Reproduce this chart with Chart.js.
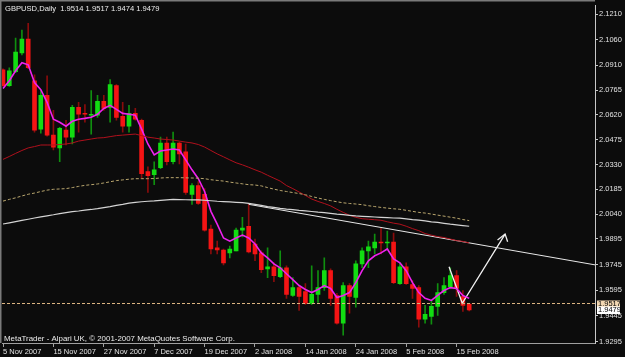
<!DOCTYPE html>
<html><head><meta charset="utf-8">
<script src="https://cdn.jsdelivr.net/npm/chart.js@4.4.1/dist/chart.umd.min.js"></script>
<style>html,body{margin:0;padding:0;background:#0c0c0c;overflow:hidden}#c{display:block}</style>
</head><body><canvas id="c" width="625" height="357"></canvas>
<script>
const dates = ["5 Nov 2007","6 Nov 2007","7 Nov 2007","8 Nov 2007","9 Nov 2007","12 Nov 2007","13 Nov 2007","14 Nov 2007","15 Nov 2007","16 Nov 2007",
"19 Nov 2007","20 Nov 2007","21 Nov 2007","22 Nov 2007","23 Nov 2007","26 Nov 2007","27 Nov 2007","28 Nov 2007","29 Nov 2007","30 Nov 2007",
"3 Dec 2007","4 Dec 2007","5 Dec 2007","6 Dec 2007","7 Dec 2007","10 Dec 2007","11 Dec 2007","12 Dec 2007","13 Dec 2007","14 Dec 2007",
"17 Dec 2007","18 Dec 2007","19 Dec 2007","20 Dec 2007","21 Dec 2007","24 Dec 2007","26 Dec 2007","27 Dec 2007","28 Dec 2007","31 Dec 2007",
"2 Jan 2008","3 Jan 2008","4 Jan 2008","7 Jan 2008","8 Jan 2008","9 Jan 2008","10 Jan 2008","11 Jan 2008","14 Jan 2008","15 Jan 2008",
"16 Jan 2008","17 Jan 2008","18 Jan 2008","21 Jan 2008","22 Jan 2008","23 Jan 2008","24 Jan 2008","25 Jan 2008","28 Jan 2008","29 Jan 2008",
"30 Jan 2008","31 Jan 2008","1 Feb 2008","4 Feb 2008","5 Feb 2008","6 Feb 2008","7 Feb 2008","8 Feb 2008","11 Feb 2008","12 Feb 2008",
"13 Feb 2008","14 Feb 2008","15 Feb 2008","18 Feb 2008","19 Feb 2008"];

const opens = [2.0884,2.0791,2.0873,2.0983,2.1064,2.0820,2.0537,2.0734,2.0502,2.0427,
2.0531,2.0490,2.0664,2.0629,2.0618,2.0618,2.0699,2.0664,2.0791,2.0612,
2.0554,2.0629,2.0589,2.0288,2.0270,2.0311,2.0456,2.0346,2.0456,2.0404,
2.0155,2.0207,2.0155,1.9952,1.9842,1.9830,1.9813,1.9825,1.9946,1.9969,
1.9865,1.9813,1.9720,1.9732,1.9674,1.9726,1.9564,1.9610,1.9587,1.9518,
1.9570,1.9610,1.9709,1.9564,1.9402,1.9622,1.9552,1.9749,1.9825,1.9842,
1.9877,1.9871,1.9877,1.9633,1.9732,1.9628,1.9610,1.9425,1.9442,1.9500,
1.9581,1.9616,1.9680,1.9558,1.9514];
const highs = [2.0890,2.0896,2.1069,2.1116,2.1156,2.0855,2.0762,2.0849,2.0647,2.0548,
2.0589,2.0676,2.0693,2.0681,2.0762,2.0734,2.0734,2.0826,2.0797,2.0693,
2.0676,2.0658,2.0595,2.0317,2.0346,2.0490,2.0490,2.0519,2.0461,2.0450,
2.0218,2.0230,2.0189,1.9975,1.9882,1.9836,1.9853,1.9958,2.0021,2.0097,
1.9894,1.9825,1.9842,1.9755,1.9825,1.9738,1.9668,1.9622,1.9633,1.9738,
1.9709,1.9784,1.9720,1.9576,1.9639,1.9633,1.9767,1.9842,1.9882,1.9923,
1.9958,1.9940,1.9929,1.9755,1.9755,1.9651,1.9622,1.9506,1.9535,1.9633,
1.9668,1.9726,1.9709,1.9593,1.9517];
const lows = [2.0786,2.0786,2.0867,2.0971,2.0890,2.0519,2.0514,2.0496,2.0415,2.0346,
2.0444,2.0450,2.0519,2.0577,2.0508,2.0606,2.0647,2.0577,2.0589,2.0519,
2.0519,2.0589,2.0247,2.0166,2.0212,2.0305,2.0328,2.0334,2.0334,2.0155,
2.0097,2.0097,1.9940,1.9807,1.9807,1.9743,1.9784,1.9825,1.9906,1.9813,
1.9767,1.9697,1.9668,1.9645,1.9668,1.9547,1.9558,1.9477,1.9512,1.9512,
1.9523,1.9593,1.9506,1.9396,1.9332,1.9460,1.9495,1.9726,1.9726,1.9807,
1.9807,1.9836,1.9633,1.9628,1.9628,1.9547,1.9379,1.9402,1.9396,1.9448,
1.9570,1.9605,1.9558,1.9471,1.9474];
const closes = [2.0791,2.0878,2.0988,2.1064,2.0896,2.0531,2.0734,2.0502,2.0432,2.0542,
2.0490,2.0664,2.0624,2.0624,2.0624,2.0699,2.0658,2.0797,2.0606,2.0554,
2.0629,2.0595,2.0276,2.0265,2.0299,2.0456,2.0346,2.0456,2.0392,2.0166,
2.0207,2.0102,1.9946,1.9836,1.9830,1.9755,1.9836,1.9946,1.9958,1.9819,
1.9807,1.9715,1.9732,1.9680,1.9726,1.9570,1.9610,1.9558,1.9518,1.9570,
1.9610,1.9709,1.9547,1.9402,1.9622,1.9558,1.9749,1.9825,1.9848,1.9877,
1.9871,1.9877,1.9639,1.9732,1.9633,1.9605,1.9425,1.9454,1.9500,1.9581,
1.9622,1.9680,1.9605,1.9506,1.9479];

const maFast = [2.0774,2.0820,2.0878,2.0925,2.0913,2.0809,2.0768,2.0693,2.0595,2.0577,
2.0554,2.0583,2.0595,2.0600,2.0606,2.0624,2.0658,2.0676,2.0652,2.0629,
2.0624,2.0618,2.0537,2.0450,2.0386,2.0409,2.0415,2.0421,2.0415,2.0357,
2.0299,2.0247,2.0172,2.0056,1.9981,1.9900,1.9882,1.9900,1.9917,1.9900,
1.9865,1.9813,1.9784,1.9749,1.9726,1.9691,1.9657,1.9622,1.9599,1.9581,
1.9599,1.9622,1.9605,1.9552,1.9564,1.9581,1.9639,1.9709,1.9767,1.9796,
1.9813,1.9836,1.9778,1.9755,1.9709,1.9639,1.9581,1.9547,1.9535,1.9564,
1.9593,1.9610,1.9605,1.9564,1.9547];
const maRed = [2.0360,2.0377,2.0395,2.0412,2.0427,2.0435,2.0444,2.0444,2.0444,2.0447,
2.0450,2.0456,2.0467,2.0473,2.0479,2.0485,2.0487,2.0493,2.0499,2.0502,
2.0505,2.0508,2.0499,2.0490,2.0485,2.0479,2.0476,2.0473,2.0467,2.0461,
2.0456,2.0447,2.0432,2.0412,2.0392,2.0375,2.0357,2.0340,2.0328,2.0314,
2.0299,2.0285,2.0267,2.0250,2.0233,2.0207,2.0189,2.0169,2.0149,2.0128,
2.0114,2.0102,2.0088,2.0068,2.0050,2.0033,2.0021,2.0013,2.0010,2.0007,
2.0004,1.9995,1.9987,1.9981,1.9969,1.9955,1.9943,1.9926,1.9917,1.9908,
1.9903,1.9894,1.9885,1.9880,1.9871];
const maDotted = [2.0116,2.0126,2.0135,2.0146,2.0156,2.0163,2.0172,2.0180,2.0185,2.0187,
2.0189,2.0195,2.0202,2.0208,2.0212,2.0216,2.0222,2.0229,2.0236,2.0240,
2.0244,2.0247,2.0247,2.0247,2.0248,2.0251,2.0253,2.0253,2.0253,2.0252,
2.0251,2.0250,2.0247,2.0241,2.0237,2.0233,2.0227,2.0222,2.0217,2.0212,
2.0210,2.0205,2.0195,2.0186,2.0178,2.0172,2.0166,2.0160,2.0153,2.0143,
2.0134,2.0126,2.0119,2.0112,2.0106,2.0102,2.0099,2.0095,2.0089,2.0084,
2.0079,2.0075,2.0071,2.0068,2.0062,2.0056,2.0050,2.0046,2.0040,2.0034,
2.0028,2.0022,2.0016,2.0008,2.0002];
const maWhite = [1.9982,1.9989,1.9996,2.0003,2.0010,2.0017,2.0024,2.0030,2.0036,2.0043,
2.0049,2.0054,2.0058,2.0063,2.0067,2.0072,2.0078,2.0084,2.0091,2.0097,
2.0104,2.0109,2.0112,2.0115,2.0117,2.0120,2.0123,2.0126,2.0125,2.0124,
2.0123,2.0123,2.0121,2.0118,2.0115,2.0113,2.0111,2.0109,2.0107,2.0103,
2.0097,2.0091,2.0084,2.0079,2.0073,2.0069,2.0066,2.0062,2.0059,2.0055,
2.0051,2.0048,2.0044,2.0040,2.0037,2.0033,2.0029,2.0027,2.0025,2.0023,
2.0021,2.0019,2.0017,2.0016,2.0012,2.0008,2.0005,2.0000,1.9995,1.9991,
1.9986,1.9981,1.9977,1.9973,1.9969];

const yTicks = [2.1210,2.1060,2.0910,2.0765,2.0620,2.0475,2.0330,2.0185,2.0040,1.9895,1.9745,1.9595,1.9445,1.9295];
const xTickIdx = [0,8,16,24,32,40,48,56,64,72];
const yRange = [1.9286, 2.1260];
const xRange = [-0.16, 93.97];
const levelLine = [1.9517];
const priceTags = [1.9517, 1.9479];
const trendX = [39, 93.97];
const trendY = [2.0097, 1.9743];
const arrowX = [70.8, 72.9, 79.7];
const arrowY = [1.9732, 1.9518, 1.9923];
const headX = [78.5, 79.7, 80.1];
const headY = [1.9888, 1.9923, 1.9878];
const headerText = "GBPUSD,Daily  1.9514 1.9517 1.9474 1.9479";
const footerText = "MetaTrader - Alpari UK, \u00a9 2001-2007 MetaQuotes Software Corp.";

const FONT = "'Liberation Sans', Arial, sans-serif";
Chart.defaults.font.family = FONT;
Chart.defaults.font.size = 7.5;

const idx = opens.map((_, i) => i);
const isUp = i => closes[i] >= opens[i];
const pts = arr => arr.map((v, i) => ({x: i, y: v}));
const lineDs = (data, color, extra) => Object.assign({
  type: 'line', data, borderColor: color, borderWidth: 1, pointRadius: 0,
  tension: 0, fill: false, order: 0
}, extra || {});

const deco = {
  id: 'deco',
  beforeDraw(chart) {
    const c = chart.ctx;
    c.save(); c.fillStyle = '#0c0c0c'; c.fillRect(0, 0, chart.width, chart.height); c.restore();
  },
  afterDraw(chart) {
    const c = chart.ctx, a = chart.chartArea, ys = chart.scales.y;
    c.save();
    c.fillStyle = '#7a7a7a';
    c.fillRect(0, 0, a.right, 1.5);
    c.fillRect(0, 0, 1.5, a.bottom);
    c.textBaseline = 'alphabetic';
    c.fillStyle = '#ececec';
    c.font = '7.6px ' + FONT;
    c.fillText(headerText, 5, 11);
    c.font = '7.9px ' + FONT;
    c.fillText(footerText, 4, 340.5);
    c.font = '7.5px ' + FONT;
    const cols = ['#f3d8b2', '#ffffff'];
    priceTags.forEach((v, k) => {
      const y = ys.getPixelForValue(v);
      c.fillStyle = cols[k];
      c.fillRect(a.right + 2, Math.round(y) - 3.5, 23, 7.5);
      c.fillStyle = '#000000';
      c.textBaseline = 'middle';
      c.fillText(v.toFixed(4), a.right + 3, Math.round(y) + 0.3);
    });
    c.restore();
  }
};

new Chart(document.getElementById('c'), {
  type: 'bar',
  data: {
    datasets: [
      lineDs(pts(maWhite), '#d4d4d4', {borderWidth: 1.2}),
      lineDs(pts(maDotted), '#b9a66e', {borderDash: [3, 2]}),
      lineDs(pts(maRed), '#b0101c'),
      lineDs(trendX.map((x, k) => ({x, y: trendY[k]})), '#e8e8e8'),
      lineDs(xRange.map(x => ({x, y: levelLine[0]})), '#dcb482', {borderDash: [3, 2]}),
      lineDs(pts(maFast), '#ee22ee', {borderWidth: 1.6}),
      lineDs(arrowX.map((x, k) => ({x, y: arrowY[k]})), '#f0f0f0', {borderWidth: 1.3}),
      lineDs(headX.map((x, k) => ({x, y: headY[k]})), '#f0f0f0', {borderWidth: 1.3}),
      {
        type: 'bar', grouped: false, order: 2,
        data: idx.map(i => ({x: i, y: [lows[i], highs[i]]})),
        backgroundColor: idx.map(i => isUp(i) ? '#0f8f0f' : '#8a0c0c'),
        barThickness: 1, borderWidth: 0
      },
      {
        type: 'bar', grouped: false, order: 1,
        data: idx.map(i => ({x: i, y: [opens[i], closes[i]]})),
        backgroundColor: idx.map(i => isUp(i) ? '#12dc12' : '#f41414'),
        barThickness: 4, borderWidth: 0, minBarLength: 1
      }
    ]
  },
  options: {
    responsive: false, animation: false,
    layout: {padding: {left: 2, top: 2, right: 0, bottom: 0}},
    plugins: {legend: {display: false}, tooltip: {enabled: false}, title: {display: false}},
    scales: {
      x: {
        type: 'linear', min: xRange[0], max: xRange[1], offset: false,
        afterBuildTicks: s => { s.ticks = xTickIdx.map(v => ({value: v})); },
        afterFit: s => { s.height = 14; },
        grid: {display: true, drawOnChartArea: false, drawTicks: true, tickLength: 4, color: '#a0a0a0', offset: false},
        border: {display: true, color: '#a0a0a0', width: 1},
        ticks: {align: 'start', maxRotation: 0, autoSkip: false, padding: 0, color: '#e2e2e2',
          callback: v => dates[v] !== undefined ? dates[v] : ''}
      },
      y: {
        position: 'right', min: yRange[0], max: yRange[1],
        afterBuildTicks: s => { s.ticks = yTicks.map(v => ({value: v})); },
        afterFit: s => { s.width = 30; },
        grid: {display: true, drawOnChartArea: false, drawTicks: true, tickLength: 3, color: '#c8c8c8'},
        border: {display: true, color: '#c8c8c8', width: 1},
        ticks: {padding: 1, color: '#e2e2e2', callback: v => v.toFixed(4)}
      }
    }
  },
  plugins: [deco]
});
</script>
</body></html>
